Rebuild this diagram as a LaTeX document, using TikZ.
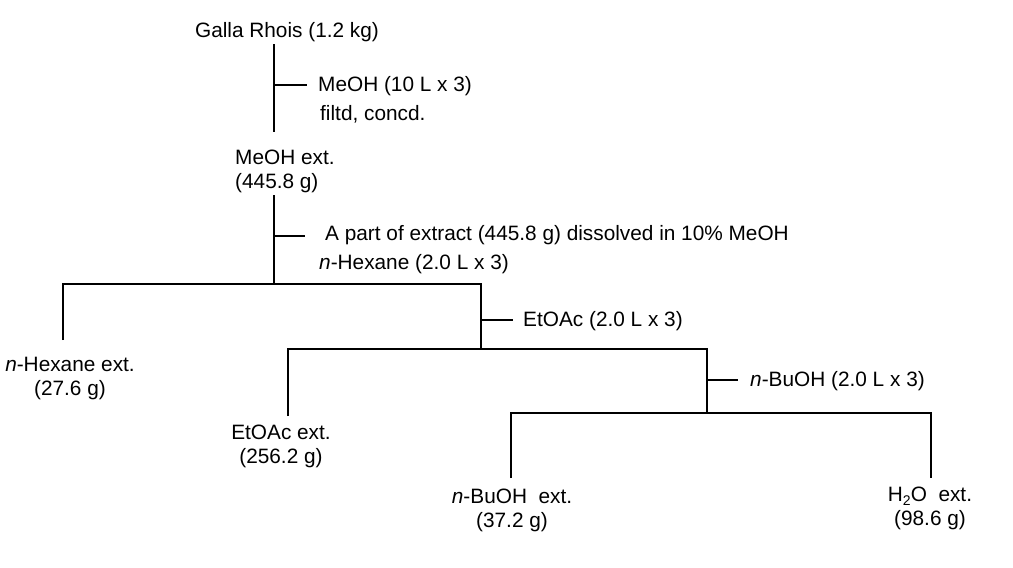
\documentclass[tikz,border=0pt]{standalone}
\usepackage{fontspec}
\setmainfont{Liberation Sans}
\begin{document}
\begin{tikzpicture}[x=1pt,y=-1pt,
  lbl/.style={font=\fontsize{20.8}{23.5}\selectfont, inner sep=0pt},
  ln/.style={line width=1.3pt}]
\useasboundingbox (0,0) rectangle (1013,568);
% nodes
\node[lbl] (galla) at (287,32.5) {Galla Rhois (1.2 kg)};
\node[lbl,anchor=west] (s1) at (318,86.5) {MeOH (10 L x 3)};
\node[lbl,anchor=west] (s1b) at (320,114.5) {filtd, concd.};
\node[lbl,anchor=north west,align=left] (meoh) at (235,150) {MeOH ext.\\(445.8 g)};
\node[lbl,anchor=west] (s2) at (325,235.5) {A part of extract (445.8 g) dissolved in 10\% MeOH};
\node[lbl,anchor=west] (s2b) at (319,264.5) {\textit{n}-Hexane (2.0 L x 3)};
\node[lbl,anchor=west] (s3) at (523,321.5) {EtOAc (2.0 L x 3)};
\node[lbl,anchor=west] (s4) at (750,381.5) {\textit{n}-BuOH (2.0 L x 3)};
\node[lbl,anchor=north,align=center] (hex) at (70,357) {\textit{n}-Hexane ext.\\(27.6 g)};
\node[lbl,anchor=north,align=center] (etoac) at (281,425) {EtOAc ext.\\(256.2 g)};
\node[lbl,anchor=north,align=center] (buoh) at (512,489) {\textit{n}-BuOH\ \ ext.\\(37.2 g)};
\node[lbl,anchor=north,align=center] (water) at (930,487) {H\raisebox{-0.35ex}{\fontsize{14}{14}\selectfont 2}O\ \ ext.\\(98.6 g)};
% coordinates
\coordinate (a1) at (274,44);
\coordinate (a2) at (274,132);
\coordinate (t1) at (274,85);
\coordinate (t1e) at (307,85);
\coordinate (b1) at (274,195);
\coordinate (b2) at (274,284);
\coordinate (t2) at (274,236);
\coordinate (t2e) at (305,236);
\coordinate (h1) at (63,284);
\coordinate (h2) at (481,284);
\coordinate (hexe) at (63,340);
\coordinate (c2) at (481,349);
\coordinate (t3) at (481,320);
\coordinate (t3e) at (513,320);
\coordinate (e1) at (288,349);
\coordinate (e2) at (707,349);
\coordinate (etoe) at (288,416);
\coordinate (d2) at (707,413);
\coordinate (t4) at (707,380);
\coordinate (t4e) at (738,380);
\coordinate (f1) at (511,413);
\coordinate (f2) at (931,413);
\coordinate (bue) at (511,478);
\coordinate (we) at (931,478);
% lines
\draw[ln] (a1) -- (a2);
\draw[ln] (t1) -- (t1e);
\draw[ln] (b1) -- (b2);
\draw[ln] (t2) -- (t2e);
\draw[ln] (hexe) -- (h1) -- (h2) -- (c2);
\draw[ln] (t3) -- (t3e);
\draw[ln] (etoe) -- (e1) -- (e2) -- (d2);
\draw[ln] (t4) -- (t4e);
\draw[ln] (bue) -- (f1) -- (f2) -- (we);
\end{tikzpicture}
\end{document}
